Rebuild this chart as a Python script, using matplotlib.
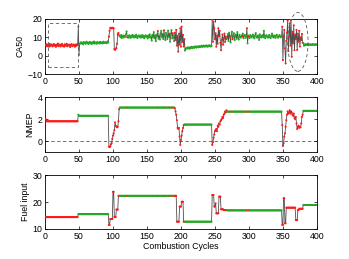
import matplotlib
matplotlib.use('Agg')
import matplotlib.pyplot as plt
from matplotlib.patches import Rectangle, Ellipse
import numpy as np

plt.rcParams['font.family'] = ['Liberation Sans', 'DejaVu Sans']
plt.rcParams['font.size'] = 6.3

# CA50 per cycle, segment by segment (cycles 1..400)
ca50_a = [5.5, 6.2, 5.1, 6.0, 5.7, 4.9, 6.4, 5.3, 5.8, 6.1, 5.0, 5.6, 6.3, 5.4, 5.9, 4.8,
          6.0, 5.5, 6.6, 5.2, 5.7, 6.1, 5.0, 5.8, 6.4, 5.3, 5.6, 4.9, 6.2, 5.7, 5.4, 6.5,
          5.1, 5.9, 5.6, 6.0, 4.7, 5.8, 6.3, 5.2, 5.5, 6.1, 5.8, 4.9, 6.0, 5.4, 6.2, 5.7]
ca50_b = [15.8, 0.5, 6.4, 6.9, 7.3, 6.6, 7.0, 6.2, 7.4, 6.8, 7.1, 6.5, 7.6, 6.9, 7.2,
          6.3, 7.0, 7.5, 6.7, 7.1, 6.4, 7.3, 6.8, 7.7, 6.6, 7.0, 7.2, 6.5, 7.4, 6.9,
          7.1, 6.6, 7.5, 7.0, 6.8, 7.3, 6.7, 7.6, 7.0, 6.9, 7.4, 7.1, 6.8, 7.8, 7.2]
ca50_c = [10.4, 13.5, 15.1, 15.0, 14.8, 15.2, 15.0, 14.9, 3.5, 3.2, 3.8, 4.1, 6.5, 11.7, 12.4, 11.0]
ca50_d = [10.8, 10.1, 11.2, 9.6, 10.5, 11.0, 9.9, 10.7, 10.3, 11.5, 13.2, 10.0, 10.6, 9.8, 11.1, 10.4, 9.7, 10.9, 10.2, 11.3,
          10.5, 9.9, 10.8, 10.1, 11.4, 10.3, 9.6, 10.7, 11.0, 10.2, 10.9, 9.8, 10.6, 11.2, 10.0, 10.8, 9.5, 10.4, 11.1, 10.3,
          10.7, 9.4, 11.0, 10.2, 11.6, 9.8, 10.5, 8.2, 11.3, 10.1, 12.8, 9.5, 10.9, 7.9, 11.5, 10.4, 13.4, 9.2, 11.0, 8.8,
          12.1, 13.5, 10.0, 11.8, 9.1, 13.8, 10.6, 8.5, 12.4, 11.0, 9.0, 13.6, 10.2, 12.0, 7.6, 11.7, 13.9, 9.4, 12.2, 10.5, 8.0]
ca50_e = [12.5, 8.5, 14.0, 5.5, 10.8, 2.2, 12.0, 6.0, 14.9, 4.9, 15.8, 7.5, 11.3, 5.0, 9.0]
ca50_f = [2.8, 3.6, 4.2, 3.9, 4.5, 4.0, 4.4, 3.8, 4.6, 4.2, 4.8, 4.1, 4.5, 4.9, 4.3, 4.7, 5.1, 4.4, 4.8, 5.0,
          4.6, 5.2, 4.7, 5.0, 5.4, 4.8, 5.1, 5.5, 4.9, 5.3, 5.0, 5.6, 5.2, 4.9, 5.5, 5.1, 5.7, 5.3, 5.0, 5.4]
ca50_g = [19.5, 7.6, 18.5, 14.9, 9.0, 12.2, 4.9, 11.0, 6.5, 14.9, 10.5, 13.5, 7.0, 3.0, 8.5, 11.5,
          6.0, 9.4, 12.0, 7.5, 10.5, 9.0]
ca50_h = [9.5, 11.8, 8.0, 12.5, 10.2, 7.2, 11.0, 13.0, 9.0, 10.5, 12.2, 8.5, 10.8, 11.5, 9.2, 12.8, 10.0, 8.8, 11.4, 10.2,
          9.8, 11.0, 10.4, 12.0, 9.5, 10.8, 11.3, 9.7, 10.5, 14.9, 6.7, 11.0, 10.3, 9.6, 11.2, 10.6, 9.9, 10.8, 11.5, 10.1,
          9.4, 10.9, 12.3, 10.2, 9.8, 11.0, 10.5, 8.6, 11.6, 10.3, 9.9, 10.7, 11.2, 10.0, 13.5, 10.4, 9.5, 10.9, 11.1, 10.2,
          9.8, 10.6, 11.3, 10.0, 9.6, 10.8, 12.0, 10.5, 9.9, 11.0, 10.4, 9.7, 10.9, 11.4, 10.1, 9.8, 10.6, 11.2, 10.3, 10.0, 10.7]
ca50_i = [15.8, -2.4, 10.5, 14.0, 4.0, -4.2, 8.0, 12.5, 19.0, 2.5, 10.4, 17.6, 5.5, 19.5, -0.6, 13.0,
          6.7, 16.5, 3.0, 11.5, 9.0, 14.0, 3.1, 12.0, 7.6, 13.5, 5.0, 10.0, 8.5, 11.8, 7.0]
ca50_j = [6.8, 5.4, 6.1, 5.8, 6.3, 5.9, 6.0, 6.4, 5.7, 6.1, 5.9, 6.2, 5.8, 6.0, 6.3, 5.9, 6.1, 5.8, 6.2, 6.0, 6.1]
ca50 = (ca50_a + ca50_b + ca50_c + ca50_d + ca50_e + ca50_f + ca50_g + ca50_h + ca50_i + ca50_j)

# NMEP per cycle
nmep = ([2.0] + [1.8] * 47 + [2.4] + [2.3] * 44
        + [-0.5, -0.55, -0.5, -0.3, -0.2, 0.2, 0.5, 0.7, 1.0, 1.7, 1.4, 1.3, 1.25, 1.3, 1.8, 2.9]
        + [3.05] * 81
        + [3.0, 2.7, 2.4, 1.9, 1.2, 1.1, 1.2, 0.4, -0.35, 0.1, 0.5, 0.9, 1.2, 1.45, 1.5]
        + [1.5] * 40
        + [-0.35, -0.1, 0.3, 0.6, 0.9, 1.0, 1.1, 0.9, 1.4, 1.3, 1.6, 1.5, 1.8, 1.9, 2.0, 2.2,
           2.1, 2.4, 2.5, 2.7, 2.6, 2.8]
        + [2.68] * 81
        + [1.45, -0.45, -0.2, 0.4, 0.7, 1.3, 1.9, 2.4, 2.7, 2.5, 2.6, 2.8, 2.5, 2.7, 2.6, 2.4,
           2.3, 2.5, 2.1, 2.0, 2.2, 1.6, 1.1, 1.3, 1.4, 1.2, 1.3, 1.25, 1.6, 2.2, 2.4]
        + [2.75] * 21)

# fuel input per cycle
fuel = ([14.4] * 48 + [15.5] * 45
        + [11.5, 11.5, 13.7, 13.7, 13.7, 13.7, 23.8, 23.8, 14.4, 14.4, 14.4, 17.2, 17.2, 17.2, 22.3, 22.3]
        + [22.3] * 81
        + [22.3, 22.3, 22.3, 12.7, 12.7, 12.7, 12.7, 18.3, 18.3, 18.3, 20.1, 20.1, 20.1, 12.7, 12.7]
        + [12.7] * 40
        + [22.6, 22.6, 22.6, 18.3, 18.3, 19.5, 15.8, 15.8, 15.8, 15.8, 22.0, 22.0, 22.0, 17.3,
           17.3, 17.3, 17.3, 17.0, 17.0, 17.0, 17.0, 17.0]
        + [16.9] * 81
        + [11.5, 11.5, 21.4, 21.4, 12.1, 12.1, 17.9, 17.9, 17.9, 17.9, 17.9, 17.9, 17.9, 17.9, 17.9,
           17.9, 17.9, 17.9, 17.9, 17.9, 13.3, 13.3, 13.3, 17.0, 17.0, 17.5, 17.5, 17.5, 17.5, 17.5, 17.5]
        + [18.9] * 21)

# cycles flagged red (not at target)
red_ranges = [(1, 48), (94, 109), (191, 205), (246, 267), (349, 379)]
red_single = [121, 166, 175, 183, 188, 272, 276, 290, 297, 300]

fig = plt.figure(figsize=(3.49, 2.59), dpi=100)
positions = [[0.129, 0.714, 0.779, 0.213],
             [0.129, 0.413, 0.779, 0.212],
             [0.129, 0.116, 0.779, 0.208]]
series = [ca50, nmep, fuel]
ylabels = ['CA50', 'NMEP', 'Fuel input']
ylims = [(-10, 20), (-1, 4), (10, 30)]
yticks = [[-10, 0, 10, 20], [0, 2, 4], [10, 20, 30]]

axes = []
for pos, y, lab, yl, yt in zip(positions, series, ylabels, ylims, yticks):
    ax = fig.add_axes(pos)
    x = np.arange(1, len(y) + 1)
    red = np.zeros(len(y), dtype=bool)
    for a, b in red_ranges:
        red[(x >= a) & (x <= b)] = True
    for c in red_single:
        if c <= len(y):
            red[c - 1] = True
    cols = np.where(red, '#ff1a1a', '#22a822')
    ax.plot(x, y, color='0.3', lw=0.6, zorder=2)
    ax.scatter(x, y, c=cols, s=2.2, linewidths=0, zorder=3)
    ax.set_xlim(0, 400)
    ax.set_ylim(*yl)
    ax.set_yticks(yt)
    ax.set_xticks(range(0, 401, 50))
    ax.set_ylabel(lab, labelpad=2)
    ax.tick_params(direction='in', top=True, right=True, length=2.5, width=0.5, pad=2)
    for s in ax.spines.values():
        s.set_linewidth(0.6)
    axes.append(ax)

# annotations
axes[0].add_patch(Rectangle((5, -6), 43, 23.6, fill=False, ls=(0, (4, 3)), lw=0.6,
                            edgecolor='0.35', zorder=4))
axes[0].add_patch(Ellipse((372, 7.5), 30, 32, fill=False, ls=(0, (4, 3)), lw=0.6,
                          edgecolor='0.35', clip_on=False, zorder=4))
axes[1].axhline(0, color='0.35', ls=(0, (4, 3)), lw=0.6, zorder=1)
axes[2].set_xlabel('Combustion Cycles', labelpad=1)

fig.savefig('out.png', dpi=100)
